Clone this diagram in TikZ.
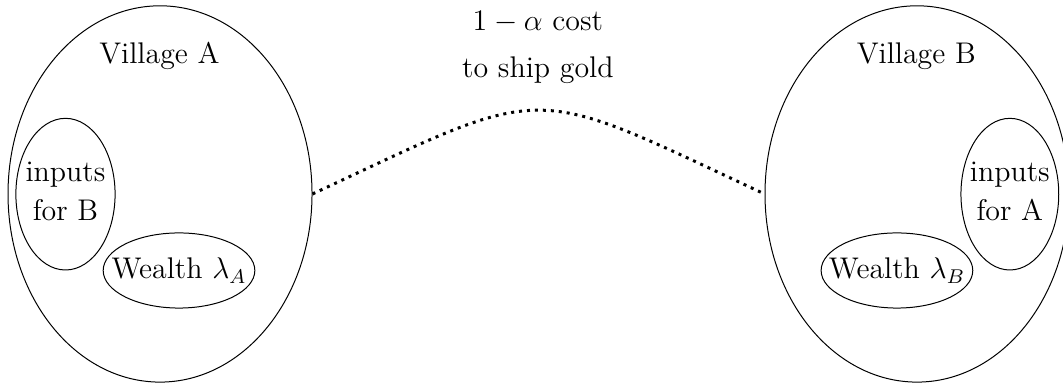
\documentclass[tikz,border=0pt]{standalone}
\usepackage{amsmath,amssymb}
\usetikzlibrary{shapes.geometric}

\begin{document}
\begin{tikzpicture}[
  font=\large,
  village/.style={draw, ellipse, inner sep=0pt, minimum width=4.29cm, minimum height=5.31cm},
  part/.style={align=center, inner sep=0pt},
  rim/.style={draw},
  lbl/.style={anchor=base},
  ship/.style={dotted, very thick}]
\useasboundingbox (0,0) rectangle (15,-5.404);
% villages
\node[village] (vA) at (2.258,-2.737) {};
\node[village] (vB) at (12.94,-2.737) {};
\node[lbl] (tA) at (2.25,-0.89) {Village A};
\node[lbl] (tB) at (12.93,-0.89) {Village B};
% contents of A
\node[part] (inB) at (0.924,-2.70) {inputs\\[2pt]for B};
\draw[rim] (0.924,-2.74) ellipse [x radius=0.70cm, y radius=1.07cm];
\node[part] (wA) at (2.526,-3.817) {Wealth $\lambda_A$};
\draw[rim] (wA.center) ellipse [x radius=1.07cm, y radius=0.53cm];
% contents of B
\node[part] (inA) at (14.25,-2.70) {inputs\\[2pt]for A};
\draw[rim] (14.25,-2.74) ellipse [x radius=0.69cm, y radius=1.07cm];
\node[part] (wB) at (12.657,-3.817) {Wealth $\lambda_B$};
\draw[rim] (wB.center) ellipse [x radius=1.07cm, y radius=0.53cm];
% shipping
\node[lbl] (cost) at (7.59,-0.437) {$1-\alpha$ cost};
\node[lbl] (gold) at (7.59,-1.087) {to ship gold};
\draw[ship] (vA.east) to[out=25, in=155, looseness=1.5] (vB.west);
\end{tikzpicture}
\end{document}
